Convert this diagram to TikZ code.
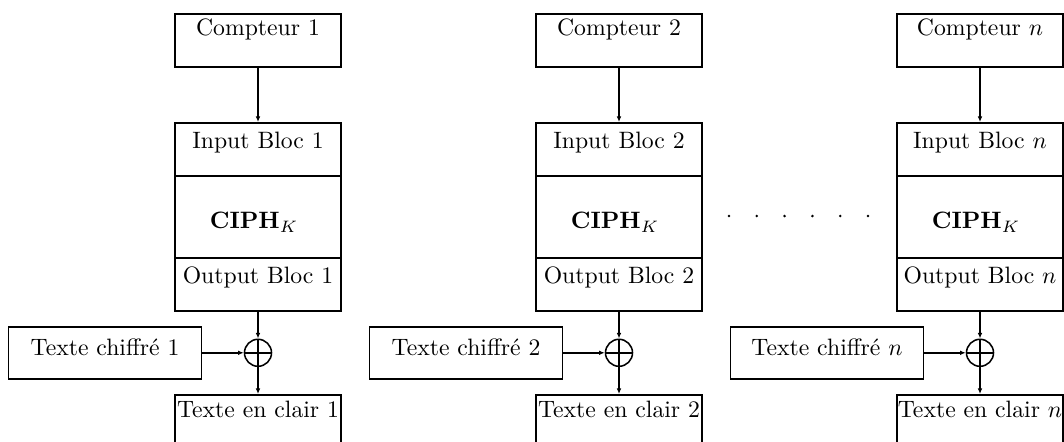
\documentclass[tikz,border=0pt]{standalone}
\usetikzlibrary{arrows.meta}
\begin{document}
\begin{tikzpicture}[x=0.422pt,y=-0.422pt, line width=0.65pt,
  blk/.style={draw, inner xsep=0pt, inner ysep=0pt,
              minimum width=70.05pt, anchor=north, font=\fontsize{10}{12}\selectfont},
  chf/.style={blk, minimum width=81.45pt},
  xorc/.style={draw, circle, inner sep=0pt, minimum size=11.4pt},
  arr/.style={-{Latex[length=2.4pt,width=2pt]}}]
  \clip (0,0) rectangle (1064,441);
  \foreach \i/\cx/\lab in {1/258/1, 2/619/2, 3/980/$n$}{
    % counter and cipher block stack
    \node[blk, text height=9.28pt, text depth=13.08pt] (cpt\i) at (\cx,13) {Compteur \lab};
    \node[blk, text height=10.97pt, text depth=11.39pt] (in\i) at (\cx,122) {Input Bloc \lab};
    \node[blk, text height=22.37pt, text depth=12.24pt] (ciph\i) at (\cx,175) {\kern-3.4pt$\mathbf{CIPH}_K$};
    \node[blk, text height=10.97pt, text depth=11.39pt] (out\i) at (\cx,257) {Output Bloc \lab};
    % ciphertext block and the XOR that gives the plaintext
    \node[chf, text height=12.24pt, text depth=9.71pt] (chif\i) at (\cx-153,326) {Texte chiffré \lab};
    \node[xorc] (xor\i) at (chif\i.center -| \cx,0) {};
    \node[blk, text height=9.71pt, text depth=25.3pt] (clair\i) at (\cx,394) {Texte en clair \lab};
    \draw (xor\i.north) -- (xor\i.south) (xor\i.west) -- (xor\i.east);
    \draw[arr] (cpt\i) -- (in\i);
    \draw[arr] (out\i) -- (xor\i);
    \draw[arr] (chif\i.east) -- (xor\i.west);
    \draw[arr] (xor\i) -- (clair\i);
  }
  % ellipsis between the second and last columns
  \foreach \k in {0,...,5}
    \fill (729+27.8*\k,216) circle (1.4);
\end{tikzpicture}
\end{document}
